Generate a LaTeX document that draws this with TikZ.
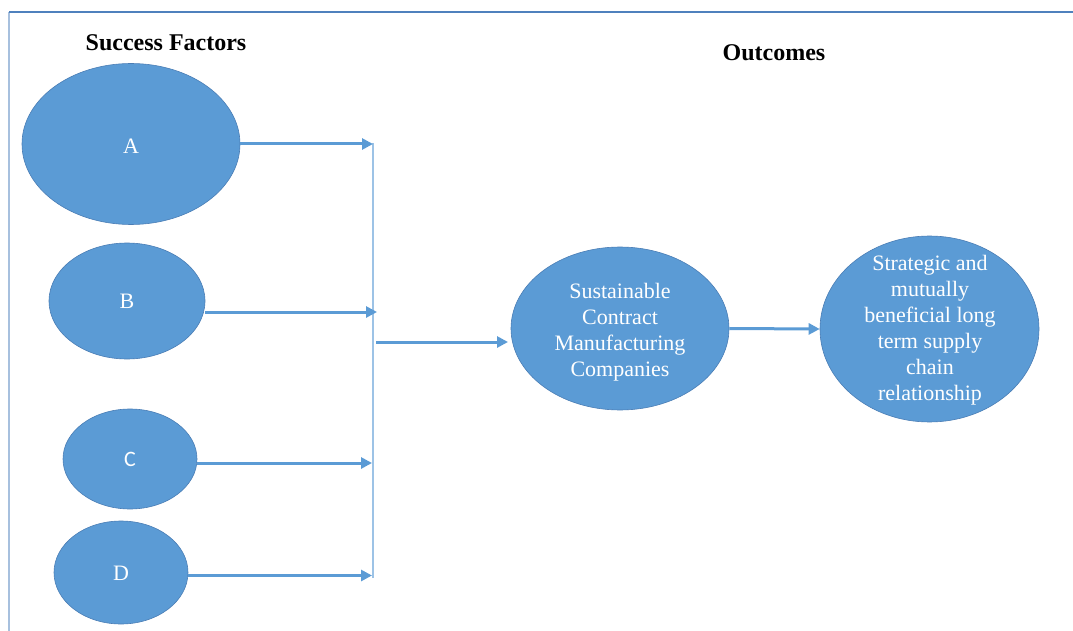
\documentclass[tikz,border=0pt]{standalone}
\usepackage{fontspec}
\setmainfont{Liberation Serif}
\newfontfamily\calibrifont{Carlito}
\usetikzlibrary{shapes.geometric,arrows.meta}
\definecolor{fillblue}{HTML}{5B9BD5}
\definecolor{edgeblue}{HTML}{4A7DB5}
\definecolor{framedark}{HTML}{4F81BD}
\definecolor{framelight}{HTML}{A7C0DE}
\definecolor{vlineblue}{HTML}{9DC3E6}
\begin{document}
\begin{tikzpicture}[x=1pt,y=-1pt,
  oval/.style={ellipse, draw=edgeblue, line width=0.6pt, fill=fillblue, inner sep=0pt},
  ovaltext/.style={text=white, font=\fontsize{22}{26}\selectfont, align=center, inner sep=0pt},
  flow/.style={draw=fillblue, line width=3pt, -{Triangle[length=11pt,width=11pt]}},
  heading/.style={font=\fontsize{24}{28}\selectfont\bfseries, inner sep=0pt}]
\useasboundingbox (0,0) rectangle (1073,631);
% frame
\coordinate (fTL) at (9,12);
\coordinate (fBL) at (9,631);
\coordinate (fTR) at (1073,12);
\draw[framelight, line width=1.5pt] (fBL) -- (fTL);
\draw[framedark, line width=1.5pt] (fTL) -- (fTR);
% headings
\node[heading] (hSF) at (166,43) {Success Factors};
\node[heading] (hOC) at (774,53) {Outcomes};
% factor ellipses
\node[oval, minimum width=218pt, minimum height=161pt] (A) at (131,144) {};
\node[ovaltext] (tA) at (131,146) {A};
\node[oval, minimum width=156pt, minimum height=116pt] (B) at (127,301) {};
\node[ovaltext] (tB) at (127,301) {B};
\node[oval, minimum width=134pt, minimum height=100pt] (C) at (130,459) {};
\node[ovaltext, font=\calibrifont\fontsize{22}{26}\selectfont] (tC) at (130,459) {C};
\node[oval, minimum width=134pt, minimum height=103pt] (D) at (121,572.5) {};
\node[ovaltext] (tD) at (121,573) {D};
% outcome ellipses
\node[oval, minimum width=218pt, minimum height=163pt] (S) at (620,328.5) {};
\node[ovaltext] (tS) at (620,332) {Sustainable\\Contract\\Manufacturing\\Companies};
\node[oval, minimum width=219pt, minimum height=186pt] (R) at (929.5,329) {};
\node[ovaltext] (tR) at (930,330.5) {Strategic and\\mutually\\beneficial long\\term supply\\chain\\relationship};
% collector line
\coordinate (vTop) at (373,143);
\coordinate (vBot) at (373,578);
\draw[vlineblue, line width=1.5pt] (vTop) -- (vBot);
% arrows into collector
\draw[flow] (A.east) -- (A.east -| vTop);
\coordinate (eB) at (377,312);
\draw[flow] (B.east |- eB) -- (eB);
\coordinate (eC) at (372,463);
\draw[flow] (C.east |- eC) -- (eC);
\coordinate (eD) at (372,575.5);
\draw[flow] (D.east |- eD) -- (eD);
% collector to outcome
\coordinate (mStart) at (376,342);
\coordinate (mEnd) at (508,342);
\draw[flow] (mStart) -- (mEnd);
\draw[flow] (S.east) -- (R.west);
\end{tikzpicture}
\end{document}
